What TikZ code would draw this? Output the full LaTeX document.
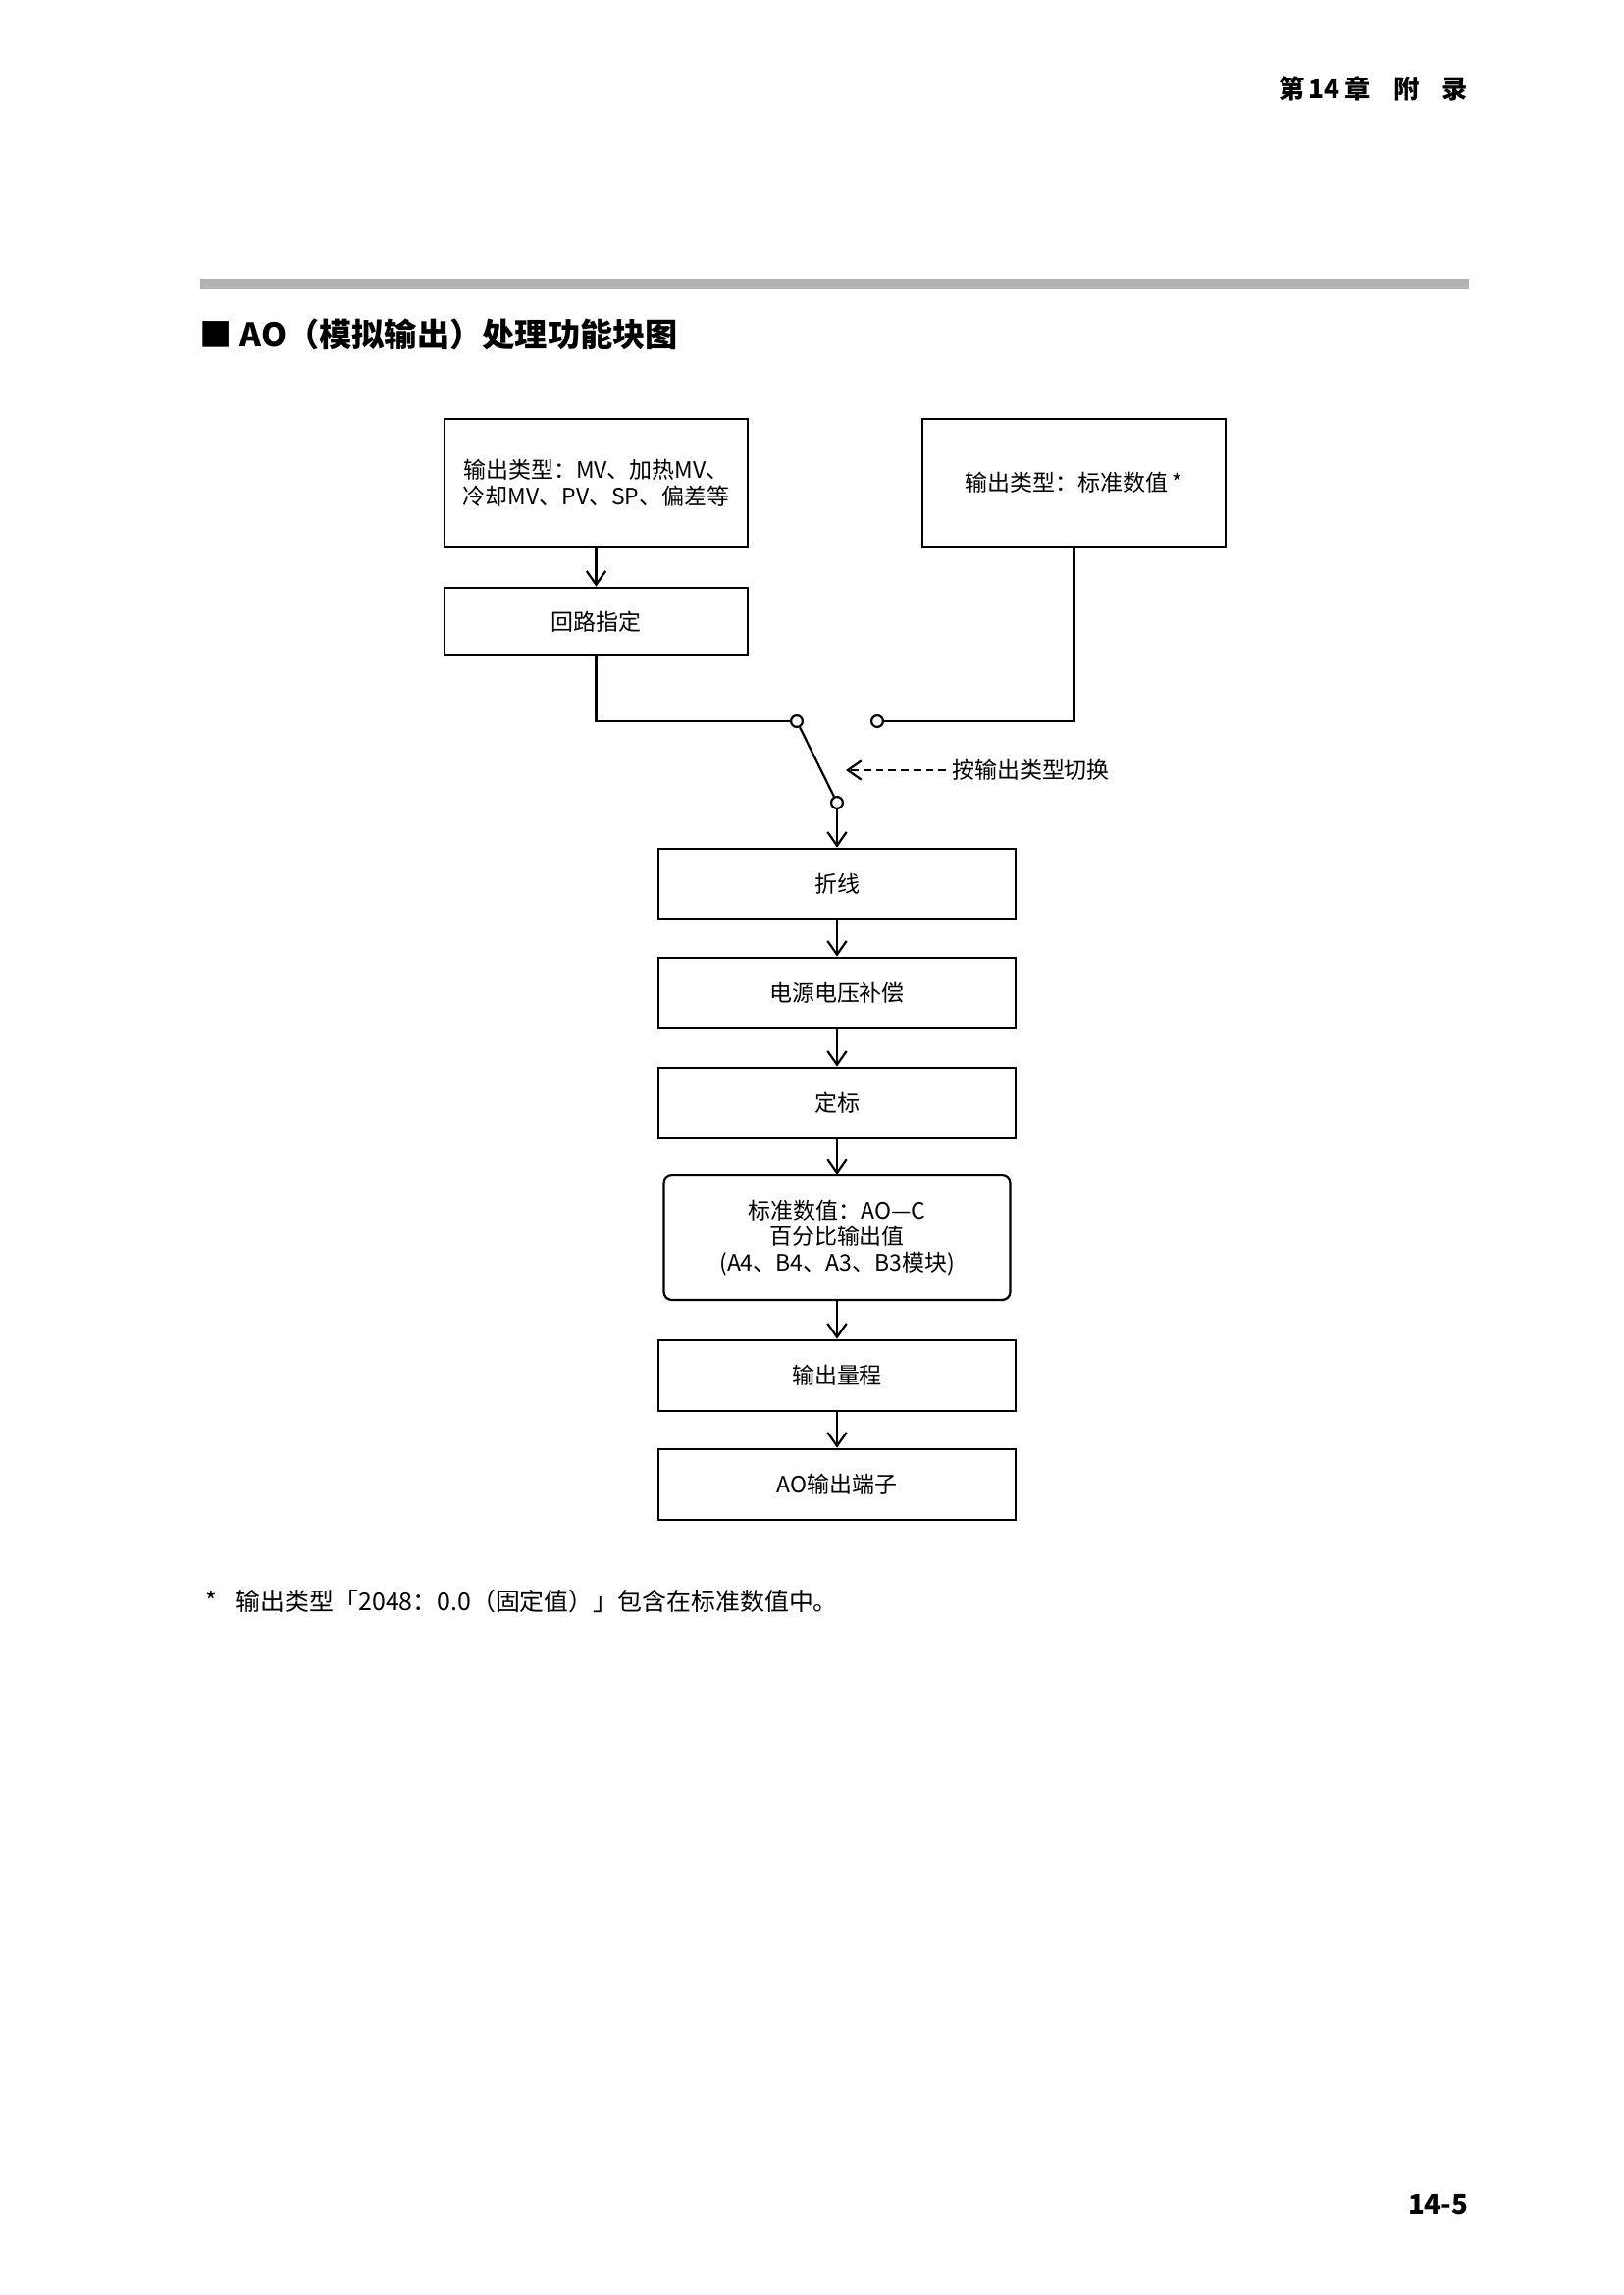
\documentclass[tikz,border=0pt]{standalone}
\usepackage{fontspec}
\setmainfont{Noto Sans CJK SC}
\usetikzlibrary{arrows.meta}

\begin{document}
\begin{tikzpicture}[
        x=0.12697mm, y=-0.12697mm,
        block/.style={rectangle, draw, line width=0.8pt, minimum width=46.3mm, minimum height=9.2mm, align=center, font=\fontsize{8.3}{9.7}\selectfont},
        srcblock/.style={block, minimum width=39.2mm, minimum height=16.5mm},
        rblock/.style={block, rounded corners=1mm, minimum width=44.8mm, minimum height=16.1mm},
        contact/.style={circle, draw, line width=0.8pt, inner sep=0pt, minimum size=1.5mm},
        arrow/.style={-{Straight Barb[length=5pt,width=7pt]}, line width=0.8pt},
        wire/.style={line width=0.8pt},
        plain/.style={font=\fontsize{8.3}{9.7}\selectfont}
    ]
    \useasboundingbox (0,0) rectangle (1654,2339);

    % Header
    \node[anchor=east, font=\fontsize{9.5}{11}\selectfont\bfseries] (chapter) at (1506,90) {第\,14\,章\enspace\, 附\enspace\, 录};
    \fill[black!30] (204,284) rectangle (1497,295);
    \node[anchor=west, font=\fontsize{12}{14}\selectfont\bfseries] (title) at (194,341) {■ AO（模拟输出）处理功能块图};

    % Sources
    \node[srcblock] (mvtype) at (607.5,492) {输出类型：MV、加热MV、\\冷却MV、PV、SP、偏差等};
    \node[block, minimum width=39.2mm, minimum height=8.8mm] (loop) at (607.5,633.5) {回路指定};
    \node[srcblock] (stdtype) at (1094.5,492) {输出类型：标准数值\,*};

    % Switch
    \node[contact] (swa) at (812,735) {};
    \node[contact] (swb) at (894,735) {};
    \node[contact] (swc) at (853,818) {};
    \draw[wire] (loop.south) |- (swa.west);
    \draw[wire] (stdtype.south) |- (swb.east);
    \draw[wire] (swa) -- (swc);
    \node[plain, anchor=west, inner sep=2pt] (swlabel) at (964,785) {按输出类型切换};
    \coordinate (swtip) at (862,785);
    \draw[arrow, dash pattern=on 2.8pt off 1.8pt] (swlabel.west) -- (swtip);

    % Main chain
    \node[block] (fold) at (853,901) {折线};
    \node[block] (supply) at (853,1012) {电源电压补偿};
    \node[block] (scaling) at (853,1124) {定标};
    \node[rblock] (stdval) at (853,1261.5) {标准数值：AO—C\\百分比输出值\\(A4、B4、A3、B3模块)};
    \node[block] (range) at (853,1402) {输出量程};
    \node[block] (terminal) at (853,1513) {AO输出端子};

    % Arrows
    \draw[arrow] (mvtype) -- (loop);
    \draw[arrow] (swc) -- (fold);
    \draw[arrow] (fold) -- (supply);
    \draw[arrow] (supply) -- (scaling);
    \draw[arrow] (scaling) -- (stdval);
    \draw[arrow] (stdval) -- (range);
    \draw[arrow] (range) -- (terminal);

    % Footnote and page number
    \node[anchor=west, font=\fontsize{9}{11}\selectfont] (starmark) at (200,1632) {*};
    \node[anchor=west, font=\fontsize{9}{11}\selectfont] (footnote) at (231,1632) {输出类型「2048：0.0（固定值）」包含在标准数值中。};
    \node[anchor=east, font=\fontsize{10}{12}\selectfont\bfseries] (pageno) at (1506,2247) {14-5};
\end{tikzpicture}
\end{document}
